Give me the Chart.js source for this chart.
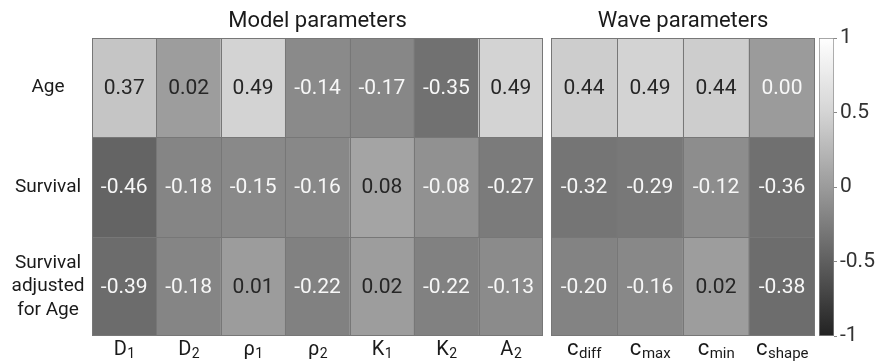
<!DOCTYPE html>
<html>
<head>
<meta charset="utf-8">
<script src="https://cdn.jsdelivr.net/npm/chart.js@4.4.1/dist/chart.umd.min.js"></script>
<style>
  body { margin: 0; background: #fff; }
  #wrap { position: relative; width: 892px; height: 364px; }
  #wrap canvas { position: absolute; top: 0; }
</style>
</head>
<body>
<div id="wrap">
  <canvas id="modelChart" width="548" height="364" style="left:0"></canvas>
  <canvas id="waveChart" width="270" height="364" style="left:548px"></canvas>
  <canvas id="barChart" width="77" height="364" style="left:815px"></canvas>
</div>
<script>
// rows (top to bottom)
const rowNames = [["Age"], ["Survival"], ["Survival", "adjusted", "for Age"]];

// columns, "_" marks the subscript
const modelLabels = ["D_1", "D_2", "ρ_1", "ρ_2", "K_1", "K_2", "A_2"];
const waveLabels = ["c_diff", "c_max", "c_min", "c_shape"];

// correlation values per row
const modelAge = [0.37, 0.02, 0.49, -0.14, -0.17, -0.35, 0.49];
const modelSurvival = [-0.46, -0.18, -0.15, -0.16, 0.08, -0.08, -0.27];
const modelSurvAdj = [-0.39, -0.18, 0.01, -0.22, 0.02, -0.22, -0.13];

const waveAge = [0.44, 0.49, 0.44, 0.00];
const waveSurvival = [-0.32, -0.29, -0.12, -0.36];
const waveSurvAdj = [-0.20, -0.16, 0.02, -0.38];

const colorbarTicks = [-1, -0.5, 0, 0.5, 1];

Chart.defaults.font.family = "Roboto";

// grey colormap (value -> grey level)
const grayStops = [[-1, 34], [-0.5, 95], [0, 155], [0.5, 212], [1, 255]];
function grayFor(v) {
  for (let i = 1; i < grayStops.length; i++) {
    const [v0, g0] = grayStops[i - 1];
    const [v1, g1] = grayStops[i];
    if (v <= v1) {
      const g = Math.round(g0 + (g1 - g0) * (v - v0) / (v1 - v0));
      return `rgb(${g},${g},${g})`;
    }
  }
  return "rgb(255,255,255)";
}

const cellPlugin = {
  id: "cells",
  afterDatasetsDraw(chart) {
    const { ctx, chartArea, scales } = chart;
    const x = scales.x, y = scales.y;
    const n = chart.data.labels.length;
    ctx.save();
    // values
    ctx.textAlign = "center";
    ctx.textBaseline = "middle";
    ctx.font = "21px Roboto";
    chart.data.datasets.forEach((ds, r) => {
      const cy = (y.getPixelForValue(r) + y.getPixelForValue(r + 1)) / 2;
      ds.values.forEach((v, i) => {
        ctx.fillStyle = v > 0 ? "#262626" : "#f7f7f7";
        ctx.fillText(v.toFixed(2), x.getPixelForValue(i), cy + 1);
      });
    });
    // cell borders
    ctx.strokeStyle = "#777";
    ctx.lineWidth = 1;
    ctx.beginPath();
    for (let i = 1; i < n; i++) {
      const px = Math.round((x.getPixelForValue(i - 1) + x.getPixelForValue(i)) / 2) + 0.5;
      ctx.moveTo(px, chartArea.top);
      ctx.lineTo(px, chartArea.bottom);
    }
    for (let r = 1; r < 3; r++) {
      const py = Math.round(y.getPixelForValue(r)) + 0.5;
      ctx.moveTo(chartArea.left, py);
      ctx.lineTo(chartArea.right, py);
    }
    ctx.stroke();
    ctx.strokeRect(Math.round(chartArea.left) + 0.5, Math.round(chartArea.top) + 0.5,
      Math.round(chartArea.width) - 1, Math.round(chartArea.height) - 1);
    ctx.restore();
  },
  afterDraw(chart, args, opts) {
    const { ctx, chartArea, scales } = chart;
    ctx.save();
    ctx.fillStyle = "#1a1a1a";
    // title
    ctx.textAlign = "center";
    ctx.textBaseline = "alphabetic";
    ctx.font = "22px Roboto";
    ctx.fillText(opts.title, (chartArea.left + chartArea.right) / 2, 27);
    // row labels
    if (opts.rowLabels) {
      ctx.font = "19px Roboto";
      ctx.textBaseline = "middle";
      rowNames.forEach((lines, r) => {
        const cy = (scales.y.getPixelForValue(r) + scales.y.getPixelForValue(r + 1)) / 2;
        lines.forEach((t, k) => {
          ctx.fillText(t, 48, cy + (k - (lines.length - 1) / 2) * 23.5);
        });
      });
    }
    // column labels with subscripts
    ctx.textAlign = "left";
    ctx.textBaseline = "alphabetic";
    chart.data.labels.forEach((lab, i) => {
      const [main, sub] = lab.split("_");
      const mainFont = opts.mainFont, subFont = opts.subFont;
      ctx.font = mainFont;
      const wm = ctx.measureText(main).width;
      ctx.font = subFont;
      const ws = ctx.measureText(sub).width;
      const x0 = scales.x.getPixelForValue(i) - (wm + ws) / 2;
      ctx.font = mainFont;
      ctx.fillText(main, x0, 355);
      ctx.font = subFont;
      ctx.fillText(sub, x0 + wm + 0.5, 358);
    });
    ctx.restore();
  }
};

function heatmap(id, labels, rows, opts, padding) {
  const datasets = rows.map((vals, r) => ({
    label: rowNames[r].join(" "),
    data: vals.map(() => [r, r + 1]),
    values: vals,
    backgroundColor: vals.map(grayFor),
    borderWidth: 0,
    categoryPercentage: 1,
    barPercentage: 1,
    grouped: false
  }));
  return new Chart(document.getElementById(id), {
    type: "bar",
    data: { labels: labels, datasets: datasets },
    options: {
      responsive: false,
      animation: false,
      layout: { padding: padding },
      plugins: {
        legend: { display: false },
        tooltip: { enabled: false },
        cells: opts
      },
      scales: {
        x: { display: false },
        y: { display: false, min: 0, max: 3, reverse: true }
      }
    },
    plugins: [cellPlugin]
  });
}

heatmap("modelChart", modelLabels, [modelAge, modelSurvival, modelSurvAdj],
  { title: "Model parameters", rowLabels: true, mainFont: "20px Roboto", subFont: "14px Roboto" },
  { left: 92, right: 5, top: 38, bottom: 28 });

heatmap("waveChart", waveLabels, [waveAge, waveSurvival, waveSurvAdj],
  { title: "Wave parameters", rowLabels: false, mainFont: "22px Roboto", subFont: "15px Roboto" },
  { left: 3, right: 3, top: 38, bottom: 28 });

// colour bar
new Chart(document.getElementById("barChart"), {
  type: "bar",
  data: {
    labels: ["scale"],
    datasets: [{
      data: [[-1, 1]],
      backgroundColor: (c) => {
        const { chart } = c;
        if (!chart.chartArea) return "#999";
        const y = chart.scales.y;
        const g = chart.ctx.createLinearGradient(0, y.getPixelForValue(-1), 0, y.getPixelForValue(1));
        for (let k = 0; k <= 20; k++) {
          const v = -1 + k / 10;
          g.addColorStop(k / 20, grayFor(v));
        }
        return g;
      },
      borderColor: "#8a8a8a",
      borderWidth: 1,
      borderSkipped: false,
      categoryPercentage: 1,
      barPercentage: 1
    }]
  },
  options: {
    responsive: false,
    animation: false,
    layout: { padding: { left: 4, right: 8, top: 38, bottom: 28 } },
    plugins: { legend: { display: false }, tooltip: { enabled: false } },
    scales: {
      x: { display: false },
      y: {
        position: "right",
        min: -1,
        max: 1,
        afterBuildTicks: (s) => { s.ticks = colorbarTicks.map(v => ({ value: v })); },
        afterFit: (s) => { s.width = 50; },
        border: { display: false },
        grid: { drawOnChartArea: false, tickLength: 3, color: "#888" },
        ticks: { color: "#333", font: { size: 21 }, padding: 3, callback: (v) => String(v) }
      }
    }
  }
});
</script>
</body>
</html>
